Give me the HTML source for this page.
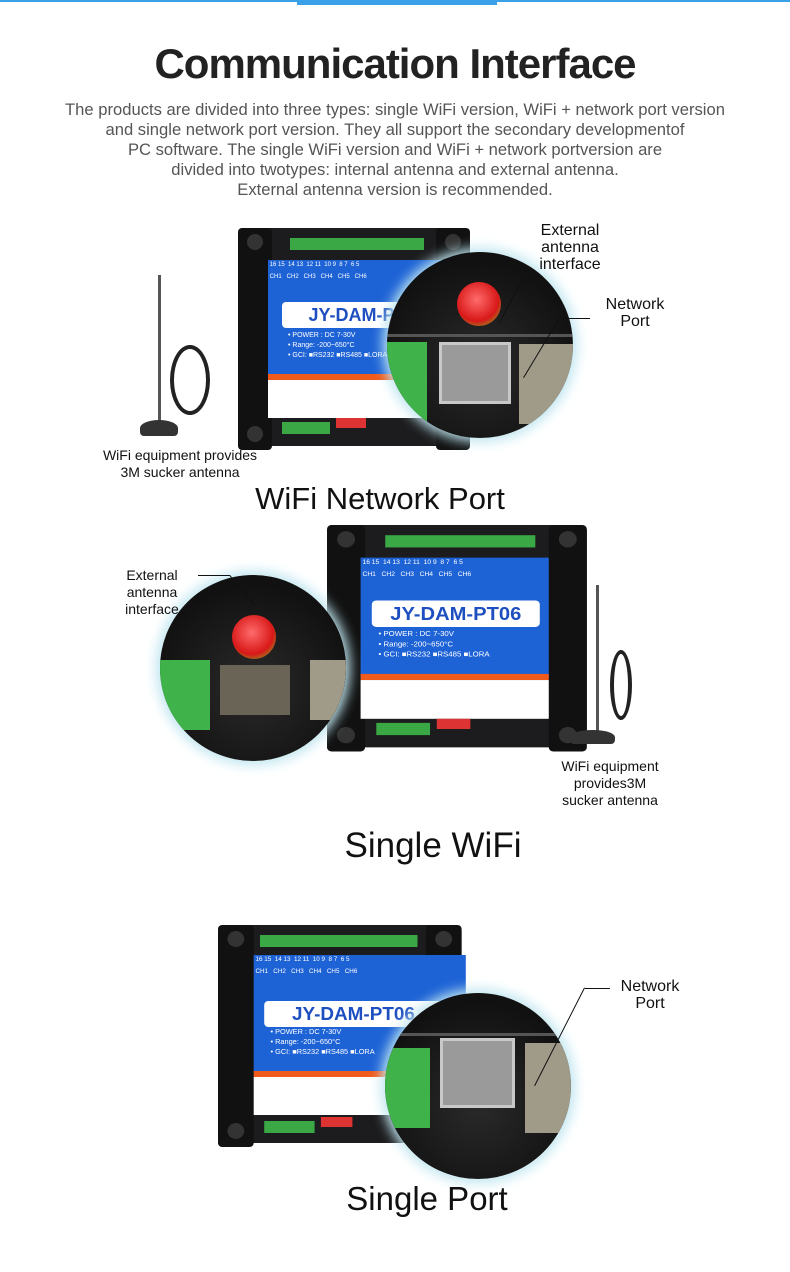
<!DOCTYPE html>
<html><head><meta charset="utf-8"><style>
*{margin:0;padding:0;box-sizing:border-box}
body{width:790px;height:1272px;background:#fff;position:relative;overflow:hidden;font-family:"Liberation Sans",sans-serif}
.a{position:absolute}
.t{position:absolute;text-align:center;color:#222}
.dev{position:absolute;width:232px;height:222px;transform-origin:0 0}
.dev .fr{position:absolute;left:0;top:0;width:232px;height:218px;background:#1c1c1e;border-radius:6px}
.dev .ear{position:absolute;width:34px;height:222px;background:#111;top:0;border-radius:4px}
.dev .hole{position:absolute;width:16px;height:16px;border-radius:50%;background:#333}
.dev .blue{position:absolute;left:30px;top:32px;width:202px;height:118px;background:#1e63d6}
.dev .org{position:absolute;left:30px;top:146px;width:202px;height:6px;background:#f05a1a}
.dev .wh{position:absolute;left:30px;top:152px;width:202px;height:38px;background:#fff}
.dev .gt{position:absolute;background:#39a845;height:12px}
.dev .name{position:absolute;left:44px;top:74px;width:170px;height:26px;background:#fff;border-radius:4px;color:#1e4fc0;font-weight:bold;font-size:18px;text-align:center;line-height:26px}
.dev .sm{position:absolute;color:#fff;font-size:7px;white-space:nowrap}
.dev .ch{position:absolute;top:2px;left:0;width:202px;height:34px;color:#fff;font-size:6px}
.circ{position:absolute;border-radius:50%;background:radial-gradient(circle at 50% 60%,#2a2a2a,#111 70%);box-shadow:0 0 12px 4px #bfe6f0;overflow:hidden}
.red{position:absolute;border-radius:50%;background:radial-gradient(circle at 45% 40%,#ff6b6b,#d81818 60%,#a07a20 80%)}
.rj{position:absolute;background:#9a9a9a;border:3px solid #c8c8c8}
.gb{position:absolute;background:#3fb24a}
.lbl{position:absolute;font-size:16px;color:#111;text-align:center;line-height:17px}
.ln{position:absolute;height:1px;background:#111;transform-origin:0 0}
</style></head><body>
<div class="a" style="left:0;top:0;width:790px;height:2px;background:#3aa0e8"></div>
<div class="a" style="left:297px;top:0;width:200px;height:5px;background:#3aa0e8"></div>
<div class="t" style="left:0;top:40px;width:790px;font-size:42px;font-weight:bold;letter-spacing:-1px">Communication Interface</div>
<div class="t" style="left:0;top:100px;width:790px;font-size:16.6px;line-height:20px;color:#555">The products are divided into three types: single WiFi version, WiFi + network port version<br>and single network port version. They all support the secondary developmentof<br>PC software. The single WiFi version and WiFi + network portversion are<br>divided into twotypes: internal antenna and external antenna.<br>External antenna version is recommended.</div>

<!-- device 1 -->
<div class="dev" style="left:238px;top:228px">
 <div class="fr"></div><div class="ear" style="left:0"></div><div class="ear" style="left:198px"></div>
 <div class="hole" style="left:9px;top:6px"></div><div class="hole" style="left:207px;top:6px"></div><div class="hole" style="left:9px;top:198px"></div>
 <div class="gt" style="left:52px;top:10px;width:134px"></div>
 <div class="blue"><div class="ch">&nbsp;16 15 &nbsp;14 13 &nbsp;12 11 &nbsp;10 9 &nbsp;8 7 &nbsp;6 5<br><br>&nbsp;CH1 &nbsp;&nbsp;CH2 &nbsp;&nbsp;CH3 &nbsp;&nbsp;CH4 &nbsp;&nbsp;CH5 &nbsp;&nbsp;CH6</div></div>
 <div class="name">JY-DAM-PT06</div>
 <div class="sm" style="left:50px;top:104px">• POWER : DC 7-30V</div>
 <div class="sm" style="left:50px;top:114px">• Range: -200~650°C</div>
 <div class="sm" style="left:50px;top:124px">• GCI: ■RS232 ■RS485 ■LORA</div>
 <div class="org"></div><div class="wh"></div>
 <div class="gt" style="left:44px;top:194px;width:48px"></div>
 <div class="a" style="left:98px;top:190px;width:30px;height:10px;background:#d33"></div>
</div>
<div class="circ" style="left:387px;top:252px;width:186px;height:186px">
 <div class="red" style="left:70px;top:30px;width:44px;height:44px"></div>
 <div class="a" style="left:0;top:82px;width:186px;height:3px;background:#555"></div>
 <div class="gb" style="left:0;top:90px;width:40px;height:80px"></div>
 <div class="rj" style="left:52px;top:90px;width:72px;height:62px"></div>
 <div class="a" style="left:132px;top:92px;width:60px;height:80px;background:#a09a88"></div>
</div>
<div class="lbl" style="left:525px;top:222px;width:90px">External<br>antenna<br>interface</div>
<div class="ln" style="left:528px;top:270px;width:60px;transform:rotate(118deg)"></div>
<div class="lbl" style="left:590px;top:296px;width:90px">Network<br>Port</div>
<div class="a" style="left:560px;top:318px;width:30px;height:1px;background:#111"></div>
<div class="ln" style="left:560px;top:318px;width:70px;transform:rotate(121deg)"></div>
<!-- antenna 1 -->
<div class="a" style="left:158px;top:275px;width:3px;height:150px;background:#555"></div>
<div class="a" style="left:170px;top:345px;width:40px;height:70px;border:4px solid #222;border-radius:50%"></div>
<div class="a" style="left:140px;top:420px;width:38px;height:16px;background:#333;border-radius:50% 50% 4px 4px"></div>
<div class="lbl" style="left:90px;top:447px;width:180px;font-size:14px">WiFi equipment provides<br>3M sucker antenna</div>
<div class="t" style="left:180px;top:481px;width:400px;font-size:31px;color:#111">WiFi Network Port</div>

<!-- device 2 -->
<div class="dev" style="left:327px;top:525px;transform:scale(1.12,1.02)">
 <div class="fr"></div><div class="ear" style="left:0"></div><div class="ear" style="left:198px"></div>
 <div class="hole" style="left:9px;top:6px"></div><div class="hole" style="left:207px;top:6px"></div><div class="hole" style="left:9px;top:198px"></div><div class="hole" style="left:207px;top:198px"></div>
 <div class="gt" style="left:52px;top:10px;width:134px"></div>
 <div class="blue" style="width:168px"><div class="ch">&nbsp;16 15 &nbsp;14 13 &nbsp;12 11 &nbsp;10 9 &nbsp;8 7 &nbsp;6 5<br><br>&nbsp;CH1 &nbsp;&nbsp;CH2 &nbsp;&nbsp;CH3 &nbsp;&nbsp;CH4 &nbsp;&nbsp;CH5 &nbsp;&nbsp;CH6</div></div>
 <div class="name" style="left:40px;width:150px">JY-DAM-PT06</div>
 <div class="sm" style="left:46px;top:104px">• POWER : DC 7-30V</div>
 <div class="sm" style="left:46px;top:114px">• Range: -200~650°C</div>
 <div class="sm" style="left:46px;top:124px">• GCI: ■RS232 ■RS485 ■LORA</div>
 <div class="org" style="width:168px"></div><div class="wh" style="width:168px"></div>
 <div class="gt" style="left:44px;top:194px;width:48px"></div>
 <div class="a" style="left:98px;top:190px;width:30px;height:10px;background:#d33"></div>
</div>
<div class="circ" style="left:160px;top:575px;width:186px;height:186px">
 <div class="red" style="left:72px;top:40px;width:44px;height:44px"></div>
 <div class="gb" style="left:0;top:85px;width:50px;height:70px"></div>
 <div class="a" style="left:60px;top:90px;width:70px;height:50px;background:#6a6456"></div>
 <div class="a" style="left:150px;top:85px;width:40px;height:60px;background:#a09a88"></div>
</div>
<div class="lbl" style="left:112px;top:567px;width:80px;font-size:14px">External<br>antenna<br>interface</div>
<div class="a" style="left:198px;top:575px;width:32px;height:1px;background:#111"></div>
<div class="ln" style="left:230px;top:575px;width:40px;transform:rotate(50deg)"></div>
<div class="a" style="left:596px;top:585px;width:3px;height:150px;background:#555"></div>
<div class="a" style="left:610px;top:650px;width:22px;height:70px;border:4px solid #222;border-radius:50%"></div>
<div class="a" style="left:570px;top:730px;width:45px;height:14px;background:#333;border-radius:50% 50% 4px 4px"></div>
<div class="lbl" style="left:545px;top:758px;width:130px;font-size:14px">WiFi equipment<br>provides3M<br>sucker antenna</div>
<div class="t" style="left:233px;top:826px;width:400px;font-size:35px;color:#111">Single WiFi</div>

<!-- device 3 -->
<div class="dev" style="left:218px;top:925px;transform:scale(1.05,1)">
 <div class="fr"></div><div class="ear" style="left:0"></div><div class="ear" style="left:198px"></div>
 <div class="hole" style="left:9px;top:6px"></div><div class="hole" style="left:207px;top:6px"></div><div class="hole" style="left:9px;top:198px"></div>
 <div class="gt" style="left:40px;top:10px;width:150px"></div>
 <div class="blue" style="left:34px;top:30px"><div class="ch">&nbsp;16 15 &nbsp;14 13 &nbsp;12 11 &nbsp;10 9 &nbsp;8 7 &nbsp;6 5<br><br>&nbsp;CH1 &nbsp;&nbsp;CH2 &nbsp;&nbsp;CH3 &nbsp;&nbsp;CH4 &nbsp;&nbsp;CH5 &nbsp;&nbsp;CH6</div></div>
 <div class="name" style="left:44px;top:76px">JY-DAM-PT06</div>
 <div class="sm" style="left:50px;top:104px">• POWER : DC 7-30V</div>
 <div class="sm" style="left:50px;top:114px">• Range: -200~650°C</div>
 <div class="sm" style="left:50px;top:124px">• GCI: ■RS232 ■RS485 ■LORA</div>
 <div class="org" style="left:34px"></div><div class="wh" style="left:34px"></div>
 <div class="gt" style="left:44px;top:196px;width:48px"></div>
 <div class="a" style="left:98px;top:192px;width:30px;height:10px;background:#d33"></div>
</div>
<div class="circ" style="left:385px;top:993px;width:186px;height:186px">
 <div class="a" style="left:0;top:40px;width:186px;height:3px;background:#555"></div>
 <div class="gb" style="left:0;top:55px;width:45px;height:80px"></div>
 <div class="rj" style="left:55px;top:45px;width:75px;height:70px"></div>
 <div class="a" style="left:140px;top:50px;width:50px;height:90px;background:#a09a88"></div>
</div>
<div class="lbl" style="left:605px;top:978px;width:90px">Network<br>Port</div>
<div class="a" style="left:585px;top:988px;width:25px;height:1px;background:#111"></div>
<div class="ln" style="left:585px;top:988px;width:110px;transform:rotate(117deg)"></div>
<div class="t" style="left:227px;top:1180px;width:400px;font-size:33px;color:#111">Single Port</div>
</body></html>
